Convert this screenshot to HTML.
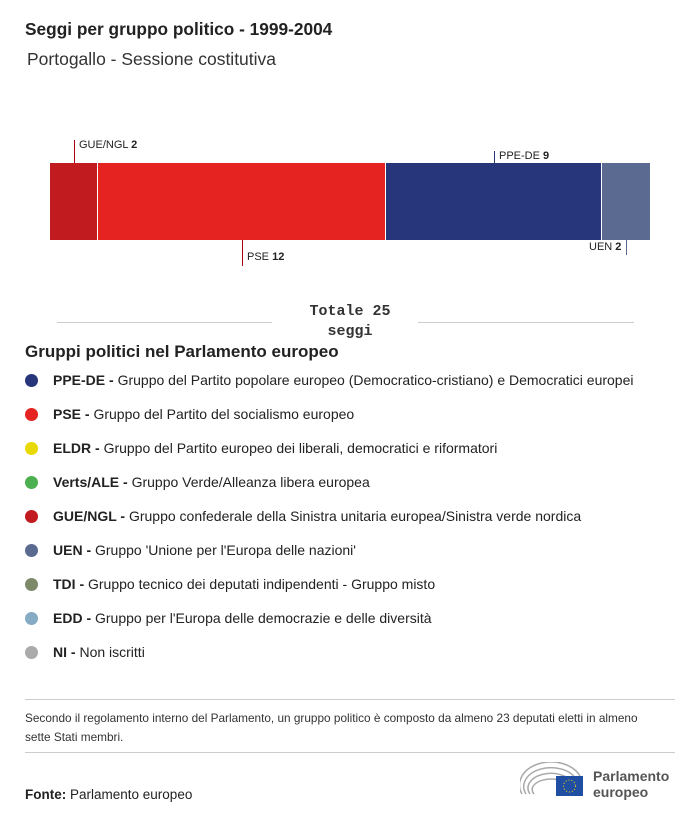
<!DOCTYPE html>
<html><head><meta charset="utf-8"><style>
body{margin:0;width:700px;height:820px;background:#fff;font-family:"Liberation Sans",sans-serif;color:#222;position:relative;overflow:hidden}
.a{position:absolute}
.t{left:25px;top:19px;font-size:17.3px;font-weight:bold}
.s{left:27px;top:49px;font-size:17.5px;color:#333}
.seg{position:absolute;top:163px;height:77px}
.lbl{position:absolute;font-size:11px;color:#222}
.vl{position:absolute;width:1px}
.leg{position:absolute;left:25px;font-size:14px;color:#222;display:flex;align-items:center}
.dot{width:13px;height:13px;border-radius:50%;margin-right:15px;flex:none}
.hr{position:absolute;height:1px;background:#ccc}
</style></head><body>
<div class="a t">Seggi per gruppo politico - 1999-2004</div>
<div class="a s">Portogallo - Sessione costitutiva</div>

<div class="seg" style="left:50px;width:47px;background:#c21b1f"></div>
<div class="seg" style="left:98px;width:287px;background:#e52421"></div>
<div class="seg" style="left:386px;width:215px;background:#27357b"></div>
<div class="seg" style="left:602px;width:48px;background:#5a6a91"></div>

<div class="vl" style="left:74px;top:140px;height:23px;background:#a01"></div>
<div class="lbl" style="left:79px;top:139px">GUE/NGL <b>2</b></div>
<div class="vl" style="left:494px;top:151px;height:12px;background:#27357b"></div>
<div class="lbl" style="left:499px;top:150px">PPE-DE <b>9</b></div>
<div class="vl" style="left:242px;top:240px;height:26px;background:#a01"></div>
<div class="lbl" style="left:247px;top:251px">PSE <b>12</b></div>
<div class="vl" style="left:626px;top:240px;height:15px;background:#5a6a91"></div>
<div class="lbl" style="left:589px;top:241px">UEN <b>2</b></div>

<div class="hr" style="left:57px;width:215px;top:322px"></div>
<div class="hr" style="left:418px;width:216px;top:322px"></div>
<div class="a" style="left:280px;top:302px;width:140px;text-align:center;font-family:'Liberation Mono',monospace;font-weight:bold;font-size:15px;line-height:20px;color:#333">Totale 25<br>seggi</div>

<div class="a" style="left:25px;top:342px;font-size:17px;font-weight:bold">Gruppi politici nel Parlamento europeo</div>

<div class="leg" style="top:372px"><span class="dot" style="background:#27357b"></span><b>PPE-DE -&nbsp;</b>Gruppo del Partito popolare europeo (Democratico-cristiano) e Democratici europei</div>
<div class="leg" style="top:406px"><span class="dot" style="background:#e52421"></span><b>PSE -&nbsp;</b>Gruppo del Partito del socialismo europeo</div>
<div class="leg" style="top:440px"><span class="dot" style="background:#e8d900"></span><b>ELDR -&nbsp;</b>Gruppo del Partito europeo dei liberali, democratici e riformatori</div>
<div class="leg" style="top:474px"><span class="dot" style="background:#4caf50"></span><b>Verts/ALE -&nbsp;</b>Gruppo Verde/Alleanza libera europea</div>
<div class="leg" style="top:508px"><span class="dot" style="background:#c21b1f"></span><b>GUE/NGL -&nbsp;</b>Gruppo confederale della Sinistra unitaria europea/Sinistra verde nordica</div>
<div class="leg" style="top:542px"><span class="dot" style="background:#5a6a91"></span><b>UEN -&nbsp;</b>Gruppo 'Unione per l'Europa delle nazioni'</div>
<div class="leg" style="top:576px"><span class="dot" style="background:#7d8a6a"></span><b>TDI -&nbsp;</b>Gruppo tecnico dei deputati indipendenti - Gruppo misto</div>
<div class="leg" style="top:610px"><span class="dot" style="background:#86abc4"></span><b>EDD -&nbsp;</b>Gruppo per l'Europa delle democrazie e delle diversità</div>
<div class="leg" style="top:644px"><span class="dot" style="background:#aaa"></span><b>NI -&nbsp;</b>Non iscritti</div>

<div class="hr" style="left:25px;width:650px;top:699px"></div>
<div class="a" style="left:25px;top:709px;font-size:11.8px;line-height:19px;color:#333;width:640px">Secondo il regolamento interno del Parlamento, un gruppo politico è composto da almeno 23 deputati eletti in almeno sette Stati membri.</div>
<div class="hr" style="left:25px;width:650px;top:752px"></div>

<div class="a" style="left:25px;top:787px;font-size:13.5px"><b>Fonte:</b> Parlamento europeo</div>

<svg class="a" style="left:520px;top:762px" width="70" height="38">
<g fill="none" stroke="#aaa" stroke-width="1.5">
<path d="M2 32 A30 22 0 0 1 60 14"/><path d="M6 32 A26 18 0 0 1 56 17"/><path d="M10 32 A22 14 0 0 1 52 20"/><path d="M14 32 A18 10 0 0 1 48 23"/></g>
<rect x="36" y="14" width="27" height="20" fill="#1f4ea3"/>
<circle cx="49.5" cy="24" r="6" fill="none" stroke="#fd0" stroke-width="1" stroke-dasharray="1 2"/>
</svg>
<div class="a" style="left:593px;top:768px;font-size:14px;font-weight:bold;line-height:16px;color:#555">Parlamento<br>europeo</div>
</body></html>
